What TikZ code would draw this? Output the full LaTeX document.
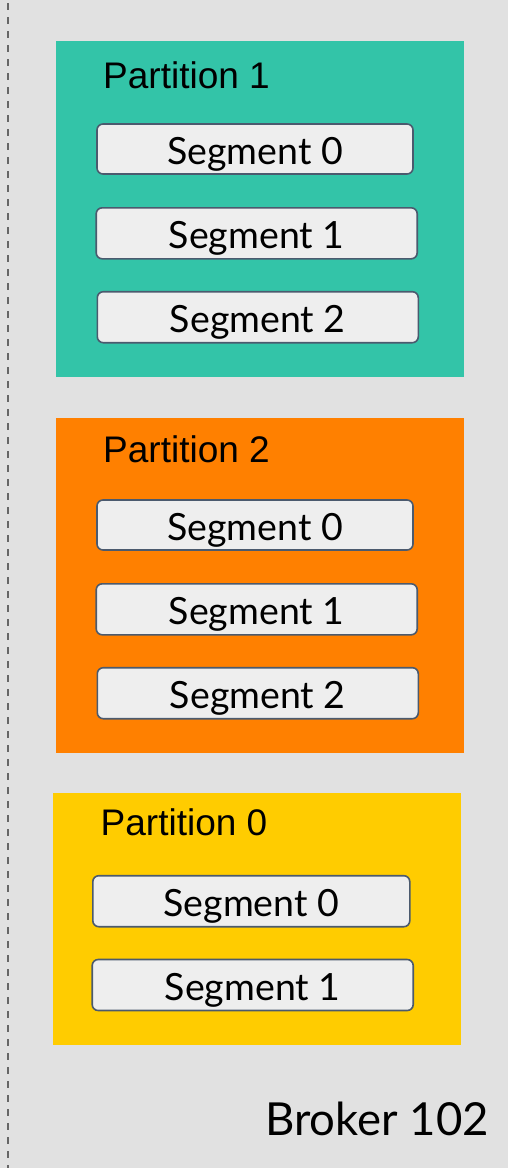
\documentclass[tikz,border=0pt]{standalone}
\usepackage{fontspec}
\setmainfont{Liberation Sans}
\newfontfamily\segfont{Lato}
\definecolor{bg}{HTML}{E1E1E1}
\definecolor{teal}{HTML}{33C4A8}
\definecolor{orangep}{HTML}{FF8000}
\definecolor{yellowp}{HTML}{FFCC00}
\definecolor{segfill}{HTML}{EEEEEE}
\definecolor{segline}{HTML}{4B5A6E}
\definecolor{dashgray}{HTML}{666666}
\begin{document}
\begin{tikzpicture}[x=1pt,y=-1pt,
  partlabel/.style={anchor=base west, inner sep=0pt, font=\fontsize{37}{40}\selectfont},
  segbox/.style={draw=segline, line width=1.6pt, fill=segfill, rounded corners=6pt,
    inner sep=0pt, text height=30pt, text depth=0pt,
    font=\segfont\fontsize{37.5}{40}\selectfont},
  brokerlabel/.style={anchor=base east, inner sep=0pt, font=\segfont\fontsize{45.5}{50}\selectfont}]
  % canvas
  \fill[bg] (0,0) rectangle (508,1168);
  \useasboundingbox (0,0) rectangle (508,1168);
  % broker boundary
  \coordinate (ltop) at (8.3,3);
  \coordinate (lbot) at (8.3,1168);
  \draw[dashgray, line width=2.2pt, dash pattern=on 7pt off 7pt] (ltop) -- (lbot);

  % Partition 1
  \fill[teal] (56,41) rectangle (464,377);
  \node[partlabel] (p1) at (103,88) {Partition 1};
  \node[segbox, minimum width=316pt, minimum height=50pt] (p1s0) at (255,149) {Segment 0};
  \node[segbox, minimum width=321pt, minimum height=51pt] (p1s1) at (256.7,233.3) {Segment 1};
  \node[segbox, minimum width=321pt, minimum height=51pt] (p1s2) at (257.8,317.2) {Segment 2};

  % Partition 2
  \fill[orangep] (56,418) rectangle (464,753);
  \node[partlabel] (p2) at (103,462) {Partition 2};
  \node[segbox, minimum width=316pt, minimum height=50pt] (p2s0) at (255,525) {Segment 0};
  \node[segbox, minimum width=321pt, minimum height=51pt] (p2s1) at (256.7,609.3) {Segment 1};
  \node[segbox, minimum width=321pt, minimum height=51pt] (p2s2) at (257.8,693.2) {Segment 2};

  % Partition 0
  \fill[yellowp] (53,793) rectangle (461,1044.7);
  \node[partlabel] (p0) at (100.5,835) {Partition 0};
  \node[segbox, minimum width=317pt, minimum height=51pt] (p0s0) at (251.3,901.2) {Segment 0};
  \node[segbox, minimum width=321pt, minimum height=51pt] (p0s1) at (252.7,985) {Segment 1};

  \node[brokerlabel] (broker) at (489,1135) {Broker 102};
\end{tikzpicture}
\end{document}
